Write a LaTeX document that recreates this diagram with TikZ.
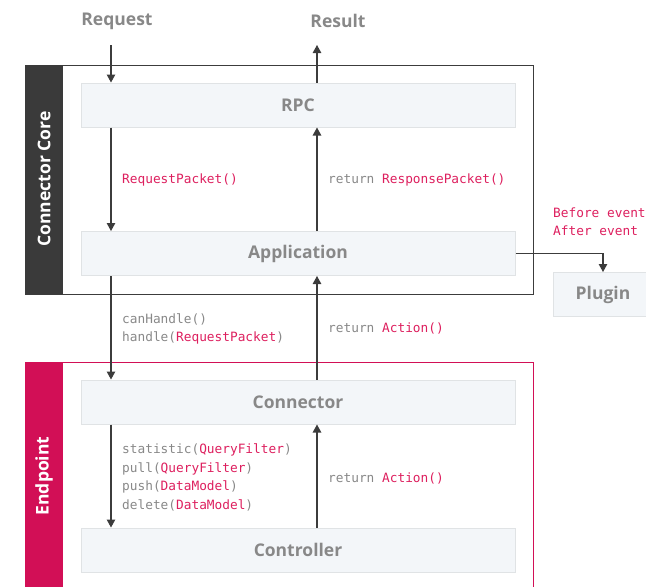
\documentclass[tikz,border=0pt]{standalone}
\usepackage{fontspec}
\setmainfont{Open Sans}
\setmonofont{DejaVu Sans Mono}
\usetikzlibrary{arrows.meta}
\definecolor{boxfill}{HTML}{F3F6F9}
\definecolor{boxline}{HTML}{E0E3E5}
\definecolor{darkband}{HTML}{3A3A3A}
\definecolor{magband}{HTML}{D20F56}
\definecolor{magtext}{HTML}{DD1F5E}
\definecolor{graytext}{HTML}{888888}
\definecolor{arrowcol}{HTML}{3C3C3C}
\newcommand{\mg}[1]{\textcolor{magtext}{#1}}
\begin{document}
\begin{tikzpicture}[x=1pt,y=-1pt,
  lane/.style={draw=boxline,line width=1pt,fill=boxfill,minimum width=434pt,minimum height=44pt,inner sep=0pt,
    font=\fontsize{17.5}{20}\selectfont\bfseries,text=graytext},
  title/.style={font=\fontsize{17.5}{20}\selectfont\bfseries,text=graytext},
  band/.style={font=\fontsize{17.5}{20}\selectfont\bfseries,text=white,rotate=90},
  code/.style={font=\ttfamily\fontsize{12.8}{18.5}\selectfont,text=graytext,align=left,anchor=west,inner sep=0pt},
  arr/.style={draw=arrowcol,line width=1.1pt,-{Triangle[width=8.5pt,length=8pt]}}]
\useasboundingbox (0,0) rectangle (646,587);
% Connector Core frame
\draw[draw=arrowcol,line width=1pt] (25,65) rectangle (533,294);
\fill[darkband] (25,65) rectangle (63,294);
\node[band] (coretitle) at (44,179) {Connector Core};
% Endpoint frame
\draw[draw=magband,line width=1pt] (25,600) -- (25,362) -- (533,362) -- (533,600);
\fill[magband] (25,362) rectangle (63,600);
\node[band] (endtitle) at (44,476) {Endpoint};
% lanes
\node[lane] (rpc) at (298,105) {RPC};
\node[lane] (app) at (298,253.5) {Application};
\node[lane] (conn) at (298,402) {Connector};
\node[lane] (ctrl) at (298,550) {Controller};
\node[lane,minimum width=100pt] (plugin) at (603,294.5) {Plugin};
% titles
\node[title] (req) at (117,21) {Request};
\node[title] (res) at (338,21) {Result};
\coordinate (reqtop) at (111,45);
\coordinate (restop) at (317,45);
% arrows
\draw[arr] (reqtop) -- (reqtop |- rpc.north);
\draw[arr] (restop |- rpc.north) -- (restop);
\draw[arr] (reqtop |- rpc.south) -- (reqtop |- app.north);
\draw[arr] (restop |- app.north) -- (restop |- rpc.south);
\draw[arr] (reqtop |- app.south) -- (reqtop |- conn.north);
\draw[arr] (restop |- conn.north) -- (restop |- app.south);
\draw[arr] (reqtop |- conn.south) -- (reqtop |- ctrl.north);
\draw[arr] (restop |- ctrl.north) -- (restop |- conn.south);
\draw[arr] (app.east) -| (plugin.north);
% labels
\node[code] (l1) at (122,180) {\mg{RequestPacket()}};
\node[code] (l2) at (328,180) {return \mg{ResponsePacket()}};
\node[code] (l3) at (553,221.5) {\mg{Before event}\\\mg{After event}};
\node[code] (l4) at (122,329) {canHandle()\\handle(\mg{RequestPacket})};
\node[code] (l5) at (328,328) {return \mg{Action()}};
\node[code] (l6) at (122,477.5) {statistic(\mg{QueryFilter})\\pull(\mg{QueryFilter})\\push(\mg{DataModel})\\delete(\mg{DataModel})};
\node[code] (l7) at (328,478) {return \mg{Action()}};
\end{tikzpicture}
\end{document}
